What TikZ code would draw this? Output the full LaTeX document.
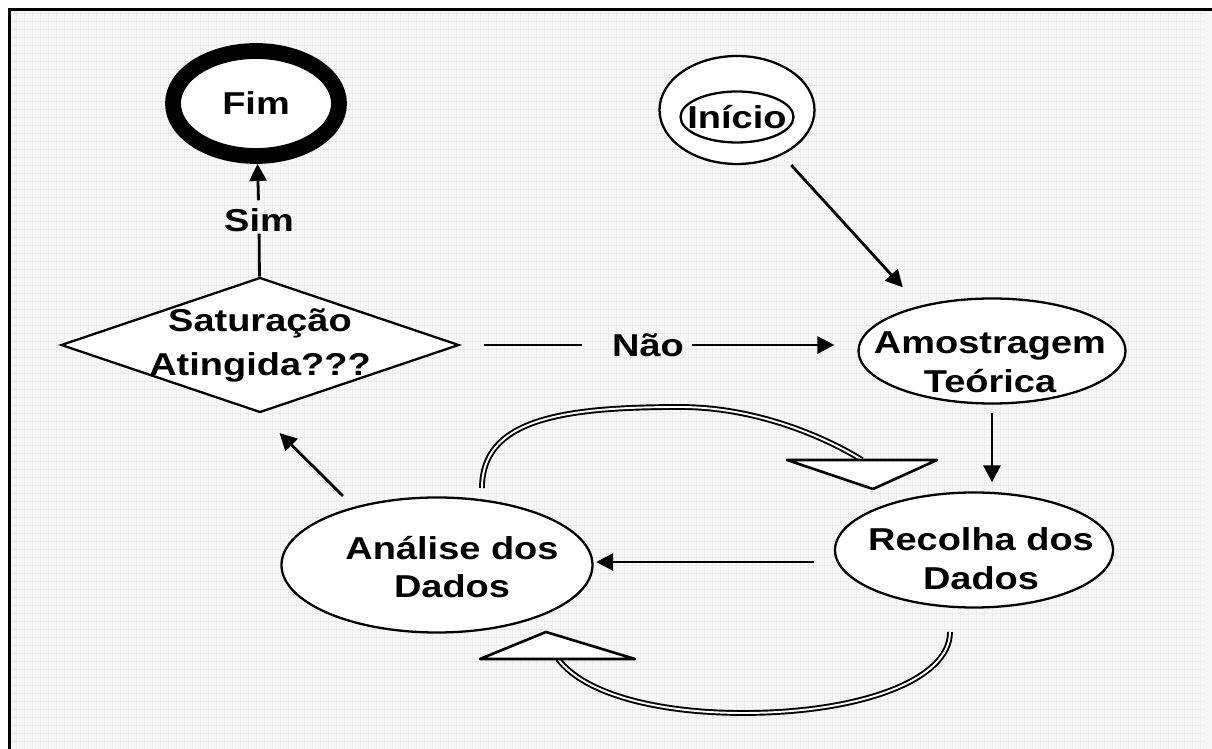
\documentclass[tikz,border=0pt]{standalone}
\usepackage{fontspec}
\setmainfont{Liberation Sans}[FakeStretch=1.2]
\usepackage{tikz}
\usetikzlibrary{shapes.geometric}
\usetikzlibrary{arrows.meta}

\begin{document}
\begin{tikzpicture}[
		mytext/.style={font=\fontsize{18}{22}\selectfont\bfseries, align=center},
		myellipse/.style={mytext, draw, ellipse, fill=white, line width=1.3pt, inner sep=-3cm},
		mylabel/.style={mytext, inner sep=1pt},
		myline/.style={line width=1.6pt},
		myarrow/.style={myline, -{Triangle[length=0.34cm, width=0.34cm]}},
		mycurve/.style={double, line width=1.1pt, double distance=1.1pt},
		myhead/.style={draw, fill=white, line width=1.5pt, line join=round}
	]
	\useasboundingbox (0,0) rectangle (24.24,14.98);

	% fundo
	\fill[gray!7] (0.16,-0.2) rectangle (24.5,14.80);
	\draw[gray!16, line width=0.3pt, step=0.16] (0.16,-0.2) grid (24.1,14.80);
	\draw[line width=1.7pt] (0.19,-0.2) -- (0.19,14.78) -- (24.5,14.78);

	\node[myellipse, line width=9pt, minimum width=3.32cm, minimum height=2.1cm] (fim) at (5.12,12.91) {Fim};
	\node[myellipse, minimum width=3.1cm, minimum height=2.16cm] (inicio) at (14.74,12.78) {};
	\node[myellipse, minimum width=2.26cm, minimum height=1.02cm] (iniciotxt) at (14.74,12.64) {Início};
	\node[mytext, draw, diamond, fill=white, line width=1.3pt, inner sep=-3cm, minimum width=7.96cm, minimum height=2.7cm] (dia) at (5.20,8.08) {Saturação\\[3pt]Atingida???};
	\node[myellipse, minimum width=5.34cm, minimum height=2.1cm] (amostra) at (19.84,7.96) {};
	\node[mytext] (amostratxt) at (19.80,7.74) {Amostragem\\Teórica};
	\node[myellipse, minimum width=5.56cm, minimum height=2.3cm] (recolha) at (19.48,3.98) {};
	\node[mytext] (recolhatxt) at (19.62,3.80) {Recolha dos\\Dados};
	\node[myellipse, minimum width=6.22cm, minimum height=2.7cm] (analise) at (8.74,3.68) {};
	\node[mytext] (analisetxt) at (9.04,3.64) {Análise dos\\Dados};

	\node[mylabel] (sim) at (5.18,10.58) {Sim};
	\node[mylabel] (nao) at (12.96,8.08) {Não};

	\draw[myline] (dia) -- (sim);
	\draw[myarrow, shorten <=0.12cm] (sim) -- (fim);

	\draw[myline, shorten <=0.48cm, shorten >=0.56cm] (dia) -- (nao);
	\draw[myarrow, shorten <=0.12cm, shorten >=0.46cm] (nao) -- (nao -| amostra.west);

	\draw[myarrow, shorten <=0.27cm, shorten >=0.5cm] (inicio.-45) -- (amostra.148);
	\draw[myarrow, shorten <=0.17cm, shorten >=0.18cm] (amostra.south) -- (amostra.south |- recolha.north);
	\draw[myarrow, shorten <=0.46cm, shorten >=0.05cm] (recolha.185) -- (recolha.185 -| analise.east);
	\draw[myarrow, shorten <=0.31cm, shorten >=0.55cm] (analise.145) -- (dia.south);

	% setas curvas
	\draw[mycurve] (9.64,5.22) .. controls (9.64,6.58) and (11.20,6.84) .. (13.60,6.84)
		.. controls (15.20,6.84) and (16.60,6.18) .. (17.24,5.78);
	\draw[myhead] (15.74,5.78) -- (18.74,5.78) -- (17.46,5.20) -- cycle;

	\draw[mycurve] (19.00,2.34) .. controls (19.00,1.38) and (17.20,0.72) .. (14.86,0.72)
		.. controls (13.20,0.72) and (11.70,1.08) .. (11.16,1.80);
	\draw[myhead] (9.60,1.80) -- (12.70,1.80) -- (10.92,2.34) -- cycle;
\end{tikzpicture}
\end{document}
